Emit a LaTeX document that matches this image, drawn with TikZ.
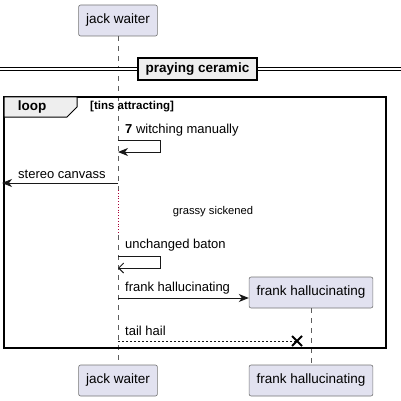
\documentclass[tikz,border=0pt]{standalone}
\usepackage{fontspec}
\setmainfont{Liberation Sans}
\usetikzlibrary{arrows.meta}
\definecolor{actorfill}{HTML}{E2E2F0}
\definecolor{actorline}{HTML}{181818}
\definecolor{groupfill}{HTML}{EEEEEE}
\definecolor{delayline}{HTML}{A80036}
\begin{document}
\begin{tikzpicture}[x=1pt,y=-1pt,
  actor/.style={draw=actorline!60, fill=actorfill, rounded corners=2pt, line width=0.6pt,
    inner xsep=7.5pt, minimum height=31pt, font=\fontsize{13.5}{15}\selectfont},
  lifeline/.style={draw=actorline!70, dash pattern=on 5pt off 5pt, line width=0.6pt},
  delayline/.style={draw=delayline, dotted, line width=0.8pt},
  msgtext/.style={anchor=west, inner sep=0pt, font=\fontsize{13}{15}\selectfont},
  msg/.style={draw=actorline, line width=0.9pt, -{Stealth[length=10pt,width=8pt,inset=3pt]}},
  openmsg/.style={draw=actorline, line width=0.9pt, -{Straight Barb[length=5pt,width=10pt]}},
  divider/.style={draw=black, fill=groupfill, line width=1.5pt, inner xsep=7.5pt, minimum height=22pt,
    font=\bfseries\fontsize{13.5}{15}\selectfont},
  frametab/.style={draw=black, fill=groupfill, line width=1pt}]
\useasboundingbox (0,0) rectangle (401,401);

% participants
\node [actor] (jack top) at (118,20.5) {jack waiter};
\node [actor] (jack bot) at (118,380.5) {jack waiter};
\node [actor] (frank) at (311,292.5) {frank hallucinating};
\node [actor] (frank bot) at (311,380.5) {frank hallucinating};

% lifelines
\coordinate (delay top) at (118,190);
\coordinate (delay bot) at (118,235);
\draw [lifeline] (jack top.south) -- (delay top);
\draw [delayline] (delay top) -- (delay bot);
\draw [lifeline] (delay bot) -- (jack bot.north);
\draw [lifeline] (frank.south) -- (frank bot.north);

% divider
\coordinate (div left) at (0,69);
\coordinate (div right) at (401,69);
\draw [double=white, double distance=2pt, line width=0.8pt] (div left) -- (div right);
\node [divider] (praying) at (197.5,69) {praying ceramic};

% loop frame
\draw [line width=1.5pt] (4,97) rectangle (386,348);
\draw [frametab] (4,97) -- (77,97) -- (77,107) -- (67,117) -- (4,117) -- cycle;
\node [inner sep=0pt, font=\bfseries\fontsize{13.5}{15}\selectfont] (loop) at (32,107.5) {loop};
\node [msgtext, font=\bfseries\fontsize{11.5}{13}\selectfont] (guard) at (90,107) {[tins attracting]};

% 7 witching manually
\node [msgtext] (m1 text) at (125,130) {\textbf{7} witching manually};
\coordinate (m1 a) at (118,140);
\coordinate (m1 b) at (160,140);
\coordinate (m1 c) at (160,152);
\coordinate (m1 d) at (118,152);
\draw [msg] (m1 a) -- (m1 b) -- (m1 c) -- (m1 d);

% stereo canvass
\node [msgtext] (m2 text) at (18,174) {stereo canvass};
\coordinate (m2 a) at (118,183);
\coordinate (m2 b) at (2,183);
\draw [msg] (m2 a) -- (m2 b);

% delay
\node [font=\fontsize{11.2}{13}\selectfont] (delay) at (213,212) {grassy sickened};

% unchanged baton
\node [msgtext] (m3 text) at (125,245) {unchanged baton};
\coordinate (m3 a) at (118,256);
\coordinate (m3 b) at (160,256);
\coordinate (m3 c) at (160,268);
\coordinate (m3 d) at (118,268);
\draw [openmsg] (m3 a) -- (m3 b) -- (m3 c) -- (m3 d);

% frank hallucinating
\node [msgtext] (m4 text) at (125,288) {frank hallucinating};
\coordinate (m4 a) at (118,298);
\draw [msg] (m4 a) -- (m4 a -| frank.west);

% tail hail
\node [msgtext] (m5 text) at (125,331) {tail hail};
\coordinate (m5 a) at (118,341);
\coordinate (kill) at (297,341);
\draw [draw=actorline, line width=0.8pt, dash pattern=on 2pt off 2pt] (m5 a) -- (kill);
\draw [line width=1.8pt] ([shift={(-5,-5)}]kill) -- ([shift={(5,5)}]kill)
  ([shift={(-5,5)}]kill) -- ([shift={(5,-5)}]kill);
\end{tikzpicture}
\end{document}
